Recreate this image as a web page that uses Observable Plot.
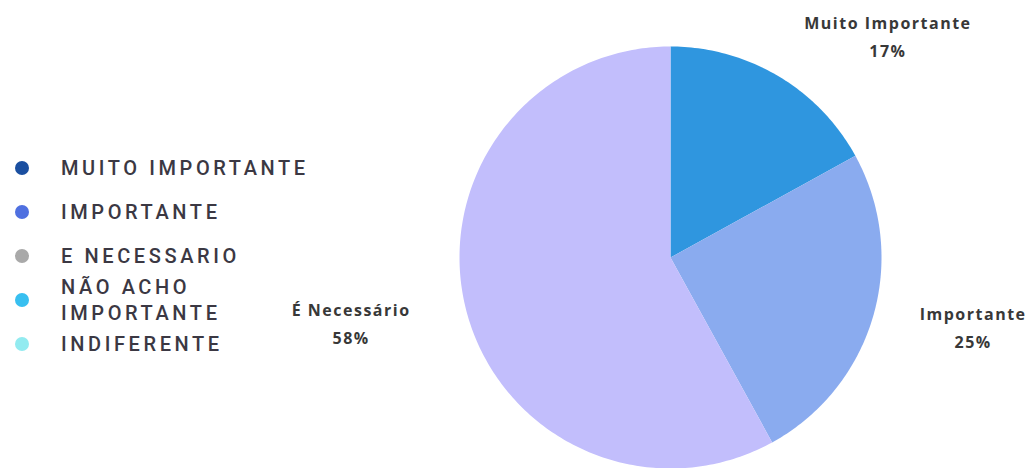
<!DOCTYPE html>
<html><head><meta charset="utf-8">
<script src="https://cdn.jsdelivr.net/npm/d3@7"></script>
<script src="https://cdn.jsdelivr.net/npm/@observablehq/plot@0.6"></script>
<style>
html,body{margin:0;padding:0;background:#fff;}
#wrap{position:relative;width:1032px;height:468px;overflow:hidden;}
#wrap svg{position:absolute;left:0;top:0;}
#wrap svg text{letter-spacing:1.5px;}
#legend{position:absolute;left:0;top:146px;font-family:Roboto,sans-serif;font-weight:500;font-size:20px;letter-spacing:3.6px;color:#3b3843;}
.item{height:44px;display:flex;align-items:center;}
.dot{width:14px;height:14px;border-radius:50%;margin-left:15px;margin-right:32px;flex:none;}
.lab{line-height:26px;width:258px;}
</style></head>
<body><div id="wrap"></div>
<script>
const categories = ["Muito Importante", "Importante", "É Necessário"];
const values = [17, 25, 58];
const sliceColors = ["#2f96df", "#8aabef", "#c2befc"];
const legendLabels = ["MUITO IMPORTANTE", "IMPORTANTE", "E NECESSARIO", "NÃO ACHO IMPORTANTE", "INDIFERENTE"];
const legendColors = ["#1a4fa0", "#4f70e0", "#a9a9a9", "#38bff0", "#92ebf0"];

const arcs = d3.pie().sort(null).value(d => d)(values);
const polys = [];
arcs.forEach((a, i) => {
  const n = Math.max(2, Math.ceil((a.endAngle - a.startAngle) * 60));
  polys.push({cat: categories[i], x: 0, y: 0});
  for (let k = 0; k <= n; k++) {
    const t = a.startAngle + (a.endAngle - a.startAngle) * k / n;
    polys.push({cat: categories[i], x: Math.sin(t), y: Math.cos(t)});
  }
});
const labelOffsets = [[110, -42], [100, 9], [-115, 11]];
const labels = arcs.map((a, i) => {
  const m = (a.startAngle + a.endAngle) / 2;
  return {x: Math.sin(m), y: Math.cos(m), text: categories[i] + "\n" + values[i] + "%", dx: labelOffsets[i][0], dy: labelOffsets[i][1]};
});

const chart = Plot.plot({
  width: 1032, height: 468,
  marginLeft: 459, marginRight: 151, marginTop: 46, marginBottom: 0,
  x: {domain: [-1, 1], axis: null},
  y: {domain: [-1, 1], axis: null},
  color: {domain: categories, range: sliceColors},
  style: {fontFamily: "'Open Sans', sans-serif", background: "transparent"},
  marks: [
    Plot.line(polys, {x: "x", y: "y", z: "cat", fill: "cat", stroke: null}),
    ...labels.map(l => Plot.text([l], {x: "x", y: "y", text: "text", dx: l.dx, dy: l.dy, fontSize: 16, fontWeight: 700, fill: "#383838", lineHeight: 1.75}))
  ]
});
const wrap = document.getElementById("wrap");
wrap.appendChild(chart);
const legend = document.createElement("div");
legend.id = "legend";
legendLabels.forEach((t, i) => {
  const it = document.createElement("div"); it.className = "item";
  const d = document.createElement("div"); d.className = "dot"; d.style.background = legendColors[i];
  const s = document.createElement("div"); s.className = "lab"; s.textContent = t;
  it.appendChild(d); it.appendChild(s); legend.appendChild(it);
});
wrap.appendChild(legend);
</script>
</body></html>
